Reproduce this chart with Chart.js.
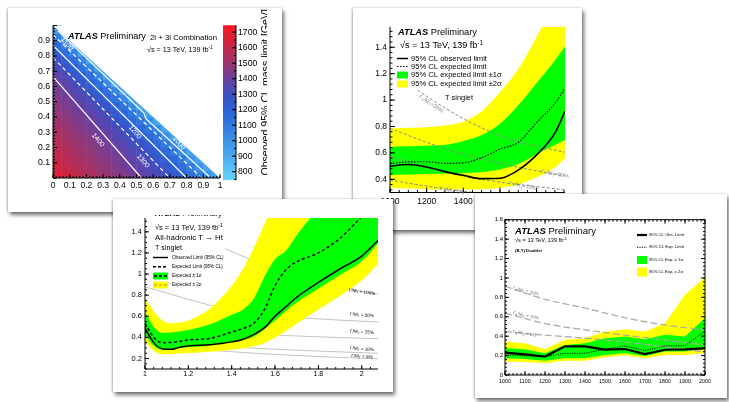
<!DOCTYPE html>
<html>
<head>
<meta charset="utf-8">
<script src="https://cdn.jsdelivr.net/npm/chart.js@4.4.1/dist/chart.umd.min.js"></script>
<style>
  html, body { margin: 0; padding: 0; background: #fff; }
  body { width: 729px; height: 402px; position: relative; overflow: hidden; }
  .card { position: absolute; background: #fff; overflow: hidden;
          box-shadow: 2px 3px 4px rgba(0,0,0,.55), -1px 0 2px rgba(0,0,0,.25); }
  .clip { position: absolute; overflow: hidden; }
  canvas { position: absolute; filter: blur(0.55px); }
</style>
</head>
<body>
<div class="card" style="left:8px;top:8px;width:274px;height:204px;z-index:1">
  <canvas id="heat" width="729" height="402" style="left:-8px;top:-8px"></canvas>
  <div class="clip" style="left:0;top:0;width:259px;height:204px">
    <canvas id="zbar" width="729" height="402" style="left:-8px;top:-8px"></canvas>
  </div>
</div>
<div class="card" style="left:353px;top:8px;width:229px;height:222px;z-index:2">
  <canvas id="singlet" width="729" height="402" style="left:-353px;top:-8px"></canvas>
</div>
<div class="card" style="left:113px;top:199px;width:280px;height:193px;z-index:3">
  <div class="clip" style="left:0;top:16px;width:280px;height:177px">
    <canvas id="hadronic" width="729" height="402" style="left:-113px;top:-215px"></canvas>
  </div>
</div>
<div class="card" style="left:475px;top:194px;width:252px;height:204px;z-index:4">
  <canvas id="doublet" width="729" height="402" style="left:-475px;top:-194px"></canvas>
</div>

<script>
const FONT = '"Liberation Sans", Arial, Helvetica, sans-serif';

// ---------- 2l + 3l combination: observed mass limit [GeV] ----------
// one row per 0.05 bin in y (from the bottom), cells every 0.05 in x
const combBin = 0.05;
const combRows = [
  [1660,1630,1600,1570,1540,1515,1490,1465,1440,1420,1390,1360,1330,1300,1255,1200,1145,1085,1000,930],
  [1630,1600,1575,1550,1520,1495,1470,1445,1420,1395,1365,1335,1305,1260,1205,1150,1090,1005,920],
  [1605,1580,1555,1525,1500,1475,1450,1425,1400,1370,1340,1310,1260,1210,1155,1095,1005,920],
  [1585,1560,1530,1505,1480,1455,1430,1410,1380,1345,1315,1270,1215,1160,1100,1010,920],
  [1565,1540,1515,1485,1460,1440,1415,1385,1350,1315,1275,1220,1160,1100,1015,920],
  [1545,1520,1495,1470,1445,1420,1390,1355,1320,1280,1225,1165,1105,1015,920],
  [1525,1500,1475,1450,1425,1395,1360,1325,1285,1230,1170,1110,1020,920],
  [1505,1480,1455,1430,1405,1370,1330,1290,1235,1175,1115,1020,920],
  [1485,1460,1435,1410,1375,1335,1300,1240,1180,1115,1025,920],
  [1465,1440,1415,1380,1340,1305,1245,1185,1120,1030,920],
  [1445,1420,1390,1350,1310,1250,1190,1125,1035,920],
  [1425,1395,1355,1315,1255,1195,1130,1040,920],
  [1405,1360,1320,1265,1200,1130,1040,920],
  [1370,1325,1270,1205,1135,1045,920],
  [1330,1275,1210,1140,1050,920],
  [1285,1215,1145,1055,920],
  [1220,1150,1060,920],
  [1155,1065,920],
  [1070,920],
  [950]
];
const combEdge = [[0, 1], [1, 0]];
const contour1400 = [[0, 0.665], [0.53, 0]];
const contour1300 = [[0, 0.79], [0.70, 0]];
const contour1200 = [[0, 0.87], [0.80, 0]];
const contour1100 = [[0, 0.94], [0.89, 0]];
const contour1000 = [[0.03, 0.965], [0.545, 0.425], [0.555, 0.39], [0.945, 0]];
const combXTicks = [0, 0.1, 0.2, 0.3, 0.4, 0.5, 0.6, 0.7, 0.8, 0.9, 1];
const combYTicks = [0.1, 0.2, 0.3, 0.4, 0.5, 0.6, 0.7, 0.8, 0.9];
const combZTicks = [800, 900, 1000, 1100, 1200, 1300, 1400, 1500, 1600, 1700];
const combZRange = [745, 1745];
const combPalette = [
  [745, '#66d4fc'], [800, '#5cc6f8'], [900, '#4aaaf0'], [1000, '#3c92e8'],
  [1100, '#3279e0'], [1200, '#2b62d6'], [1300, '#3f4fc2'], [1400, '#6b3f9e'],
  [1500, '#9a356f'], [1600, '#c4284a'], [1700, '#ec1a2c'], [1745, '#f81424']
];

// ---------- T singlet, Ht + Zt + Wb ----------
const tsMass = [1000, 1100, 1200, 1300, 1400, 1500, 1600, 1700, 1800, 1900, 1955];
const tsObs  = [0.50, 0.512, 0.493, 0.458, 0.43, 0.405, 0.408, 0.47, 0.585, 0.75, 0.915];
const tsExp  = [0.52, 0.532, 0.533, 0.521, 0.525, 0.563, 0.628, 0.68, 0.83, 0.975, 1.09];
const tsUp1  = [0.645, 0.65, 0.655, 0.66, 0.69, 0.735, 0.82, 0.96, 1.13, 1.3, 1.405];
const tsLo1  = [0.433, 0.437, 0.44, 0.443, 0.446, 0.455, 0.475, 0.515, 0.59, 0.66, 0.698];
const tsUp2  = [0.785, 0.79, 0.795, 0.808, 0.835, 0.915, 1.06, 1.235, 1.48, 1.75, 1.95];
const tsLo2  = [0.335, 0.33, 0.325, 0.322, 0.322, 0.325, 0.335, 0.36, 0.415, 0.49, 0.56];
const tsWidth30 = [[1150,1.075],[1300,0.94],[1400,0.86],[1500,0.79],[1600,0.73],[1700,0.685],[1800,0.65],[1955,0.605]];
const tsWidth20 = [[1000,0.786],[1200,0.68],[1400,0.59],[1600,0.52],[1800,0.465],[1955,0.425]];
const tsWidth10 = [[1000,0.571],[1200,0.49],[1400,0.425],[1600,0.378],[1800,0.345],[1955,0.32]];
const tsWidth5  = [[1000,0.395],[1200,0.348],[1400,0.31],[1600,0.28]];
const tsXTicks = [1000, 1200, 1400, 1600, 1800];
const tsYTicks = [0.4, 0.6, 0.8, 1, 1.2, 1.4];

// ---------- all-hadronic T -> Ht, T singlet ----------
const hadMass = [1.0, 1.04, 1.08, 1.12, 1.16, 1.2, 1.3, 1.4, 1.45, 1.5, 1.55, 1.6, 1.65, 1.7, 1.8, 1.9, 2.0, 2.1];
const hadObs = [0.484, 0.35, 0.292, 0.286, 0.305, 0.32, 0.33, 0.357, 0.38, 0.425, 0.49, 0.6, 0.69, 0.78, 0.92, 1.05, 1.17, 1.37];
const hadExp = [0.532, 0.40, 0.348, 0.352, 0.362, 0.375, 0.39, 0.45, 0.482, 0.53, 0.66, 0.89, 1.04, 1.116, 1.2, 1.34, 1.545, 1.75];
const hadUp1 = [0.642, 0.5, 0.44, 0.445, 0.455, 0.47, 0.525, 0.615, 0.66, 0.76, 0.97, 1.14, 1.22, 1.368, 1.62, 1.85, 2.0, 2.1];
const hadLo1 = [0.421, 0.32, 0.28, 0.288, 0.298, 0.305, 0.326, 0.355, 0.372, 0.405, 0.475, 0.56, 0.65, 0.73, 0.86, 0.99, 1.12, 1.35];
const hadUp2 = [0.768, 0.65, 0.56, 0.532, 0.54, 0.56, 0.674, 0.89, 1.04, 1.24, 1.47, 1.7, 1.9, 2.0, 2.2, 2.4, 2.5, 2.6];
const hadLo2 = [0.358, 0.275, 0.24, 0.242, 0.248, 0.252, 0.263, 0.283, 0.295, 0.315, 0.345, 0.395, 0.46, 0.53, 0.665, 0.795, 0.94, 1.15];
const hadWidthMass = [1.0, 1.1, 1.2, 1.3, 1.4, 1.5, 1.6, 1.7, 1.8, 1.9, 2.0, 2.1];
const hadWidth100 = [[1.369,1.242],[1.5,1.125],[1.6,1.045],[1.7,0.98],[1.8,0.925],[1.9,0.875],[2.0,0.835],[2.1,0.8]];
const hadWidth50 = [0.879, 0.82, 0.76, 0.705, 0.665, 0.635, 0.61, 0.59, 0.575, 0.563, 0.553, 0.545];
const hadWidth25 = [0.516, 0.49, 0.47, 0.453, 0.44, 0.43, 0.421, 0.413, 0.405, 0.398, 0.392, 0.386];
const hadWidth10 = [0.389, 0.365, 0.345, 0.326, 0.31, 0.298, 0.288, 0.278, 0.27, 0.262, 0.255, 0.248];
const hadWidth5  = [0.342, 0.318, 0.297, 0.279, 0.264, 0.25, 0.238, 0.228, 0.218, 0.21, 0.202, 0.195];
const hadXTicks = [1, 1.2, 1.4, 1.6, 1.8, 2];
const hadYTicks = [0.2, 0.4, 0.6, 0.8, 1, 1.2, 1.4];

// ---------- (B,Y) doublet ----------
const dblMass = [1000, 1100, 1200, 1300, 1400, 1500, 1600, 1700, 1800, 1900, 2000];
const dblObs = [0.23, 0.212, 0.19, 0.295, 0.295, 0.262, 0.268, 0.215, 0.26, 0.265, 0.275];
const dblExp = [0.207, 0.2, 0.19, 0.224, 0.224, 0.266, 0.30, 0.252, 0.30, 0.30, 0.455];
const dblUp1 = [0.276, 0.265, 0.224, 0.31, 0.328, 0.379, 0.397, 0.369, 0.414, 0.397, 0.586];
const dblLo1 = [0.172, 0.165, 0.148, 0.172, 0.172, 0.207, 0.224, 0.197, 0.241, 0.241, 0.276];
const dblUp2 = [0.345, 0.328, 0.266, 0.362, 0.379, 0.448, 0.472, 0.448, 0.534, 0.828, 1.01];
const dblLo2 = [0.138, 0.134, 0.121, 0.148, 0.148, 0.183, 0.2, 0.172, 0.207, 0.207, 0.224];
const dblWidth20 = [[1000,0.914],[1200,0.78],[1400,0.69],[1600,0.59],[1800,0.515],[2000,0.466]];
const dblWidth10 = [[1000,0.638],[1200,0.53],[1400,0.465],[1600,0.41],[1800,0.36],[2000,0.31]];
const dblWidth5  = [[1000,0.448],[1200,0.41],[1400,0.38],[1600,0.34],[1800,0.29],[2000,0.235]];
const dblXTicks = [1000, 1100, 1200, 1300, 1400, 1500, 1600, 1700, 1800, 1900, 2000];
const dblYTicks = [0, 0.2, 0.4, 0.6, 0.8, 1, 1.2, 1.4, 1.6];

// ---------- helpers ----------
const steps = (a, b, d) => { const out = []; for (let v = a; v <= b + 1e-9; v += d) out.push(+v.toFixed(4)); return out; };
const pts = (xs, ys) => xs.map((x, i) => ({ x, y: ys[i] }));
const pairs = arr => arr.map(([x, y]) => ({ x, y }));

function hexRgb(h) { return [1, 3, 5].map(i => parseInt(h.slice(i, i + 2), 16)); }
function paletteColor(v) {
  const p = combPalette;
  if (v <= p[0][0]) return p[0][1];
  for (let i = 1; i < p.length; i++) {
    if (v <= p[i][0]) {
      const t = (v - p[i - 1][0]) / (p[i][0] - p[i - 1][0]);
      const a = hexRgb(p[i - 1][1]), b = hexRgb(p[i][1]);
      return 'rgb(' + a.map((c, k) => Math.round(c + (b[k] - c) * t)).join(',') + ')';
    }
  }
  return p[p.length - 1][1];
}

function line(data, color, width, dash, smooth) {
  return { data, borderColor: color, borderWidth: width, borderDash: dash || [], pointRadius: 0,
           fill: false, showLine: true, cubicInterpolationMode: smooth ? 'monotone' : 'default', tension: 0 };
}
function band(xs, hi, lo, color, smooth) {
  const mode = smooth ? 'monotone' : 'default';
  return [
    { data: pts(xs, hi), fill: '+1', backgroundColor: color, borderWidth: 0, pointRadius: 0, cubicInterpolationMode: mode },
    { data: pts(xs, lo), fill: false, borderWidth: 0, pointRadius: 0, cubicInterpolationMode: mode }
  ];
}

function linAxis(min, max, ticks, o) {
  return {
    type: 'linear', min, max, position: o.pos,
    grid: { display: false, drawTicks: false }, border: { display: false },
    ticks: { font: { family: FONT, size: o.size }, color: '#000', padding: o.pad,
             maxRotation: 0, autoSkip: false, callback: v => String(v) },
    afterBuildTicks: s => { s.ticks = ticks.map(v => ({ value: v })); },
    afterFit: s => { if (s.isHorizontal()) s.height = o.fit; else s.width = o.fit; }
  };
}

// ROOT style frame with inward tick marks
const rootFrame = {
  id: 'rootFrame',
  afterDatasetsDraw(chart, args, o) {
    if (!o || !o.sides) return;
    const { ctx, chartArea: a } = chart;
    const sx = chart.scales.x, sy = chart.scales.y;
    const [big, small] = o.len || [4, 2];
    const has = s => o.sides.includes(s);
    ctx.save();
    ctx.strokeStyle = '#000';
    ctx.lineWidth = o.lw || 1;
    ctx.beginPath();
    if (has('left'))   { ctx.moveTo(a.left, a.top);  ctx.lineTo(a.left, a.bottom); }
    if (has('right'))  { ctx.moveTo(a.right, a.top); ctx.lineTo(a.right, a.bottom); }
    if (has('bottom')) { ctx.moveTo(a.left, a.bottom); ctx.lineTo(a.right, a.bottom); }
    if (has('top'))    { ctx.moveTo(a.left, a.top);  ctx.lineTo(a.right, a.top); }
    const xt = (vals, len) => (vals || []).forEach(v => {
      const p = sx.getPixelForValue(v);
      if (p < a.left - 0.5 || p > a.right + 0.5) return;
      if (has('bottom')) { ctx.moveTo(p, a.bottom); ctx.lineTo(p, a.bottom - len); }
      if (has('top'))    { ctx.moveTo(p, a.top);    ctx.lineTo(p, a.top + len); }
    });
    const yt = (vals, len) => (vals || []).forEach(v => {
      const p = sy.getPixelForValue(v);
      if (p < a.top - 0.5 || p > a.bottom + 0.5) return;
      if (has('left'))  { ctx.moveTo(a.left, p);  ctx.lineTo(a.left + len, p); }
      if (has('right')) { ctx.moveTo(a.right, p); ctx.lineTo(a.right - len, p); }
    });
    xt(o.xt, big); xt(o.xm, small); yt(o.yt, big); yt(o.ym, small);
    ctx.stroke();
    ctx.restore();
  }
};

// text labels and legend samples, in canvas pixels
function drawNote(ctx, n) {
  const parts = n.parts || [{ t: n.text }];
  const fontOf = (p, s) => (p.i ? 'italic ' : '') + (p.b || n.b ? 'bold ' : '') +
    ((p.sub || p.sup) ? s * 0.7 : s).toFixed(2) + 'px ' + FONT;
  const widthAt = s => parts.reduce((w, p) => { ctx.font = fontOf(p, s); return w + ctx.measureText(p.t).width; }, 0);
  const size = n.w ? 10 * n.w / widthAt(10) : (n.size || 10);
  const total = widthAt(size);
  let x = n.align === 'center' ? -total / 2 : n.align === 'right' ? -total : 0;
  ctx.save();
  ctx.translate(n.x, n.y);
  if (n.rot) ctx.rotate(n.rot * Math.PI / 180);
  ctx.fillStyle = n.color || '#000';
  ctx.textBaseline = 'middle';
  ctx.textAlign = 'left';
  for (const p of parts) {
    ctx.font = fontOf(p, size);
    ctx.fillText(p.t, x, p.sub ? size * 0.3 : p.sup ? -size * 0.35 : 0);
    x += ctx.measureText(p.t).width;
  }
  ctx.restore();
}
function drawSample(ctx, s) {
  ctx.save();
  if (s.fill) { ctx.fillStyle = s.fill; ctx.fillRect(s.x, s.y - s.h / 2, s.w, s.h); }
  if (s.line) {
    ctx.strokeStyle = s.line; ctx.lineWidth = s.lw || 1; ctx.setLineDash(s.dash || []);
    ctx.beginPath(); ctx.moveTo(s.x + (s.inset || 0), s.y); ctx.lineTo(s.x + s.w - (s.inset || 0), s.y); ctx.stroke();
  }
  ctx.restore();
}
const notes = {
  id: 'notes',
  afterDraw(chart, args, o) {
    (o.samples || []).forEach(s => drawSample(chart.ctx, s));
    (o.items || []).forEach(n => drawNote(chart.ctx, n));
  }
};

const atlas = [{ t: 'ATLAS', b: true, i: true }, { t: ' Preliminary' }];
const energy = [{ t: '√s = 13 TeV, 139 fb' }, { t: '-1', sup: true }];
const gammaQ = (q, tail) => [{ t: 'Γ' }, { t: q, sub: true }, { t: '/M' }, { t: q, sub: true }, { t: tail }];
const gammaT = tail => [{ t: 'Γ/M' }, { t: 'T', sub: true }, { t: tail }];

function makeChart(id, type, datasets, o) {
  return new Chart(document.getElementById(id), {
    type,
    data: { labels: o.labels, datasets },
    options: {
      responsive: false, animation: false, devicePixelRatio: 1, events: [],
      layout: { padding: o.pad },
      plugins: { legend: { display: false }, tooltip: { enabled: false },
                 rootFrame: o.frame || {}, notes: o.notes || {} },
      scales: o.scales
    },
    plugins: [rootFrame, notes]
  });
}

// ---------- top left: mass limit plane ----------
const cells = [];
combRows.forEach((row, j) => row.forEach((v, i) => cells.push({ x: (i + 0.5) * combBin, y: (j + 0.5) * combBin, v })));

makeChart('heat', 'scatter', [
  line(pairs(contour1000), '#fff', 1.2),
  line(pairs(contour1100), '#fff', 1.2, [4, 3]),
  line(pairs(contour1200), '#fff', 1.2),
  line(pairs(contour1300), '#fff', 1.2, [4, 3]),
  line(pairs(contour1400), '#fff', 1.2),
  { data: pairs(combEdge), showLine: true, fill: 'end', backgroundColor: '#fff', borderWidth: 0, pointRadius: 0 },
  { data: cells, pointStyle: 'rect', pointRadius: 6.2, borderWidth: 0,
    pointBackgroundColor: c => paletteColor(c.raw.v), backgroundColor: c => paletteColor(c.raw.v) }
], {
  pad: { left: 13, right: 509, top: 25.5, bottom: 204 },
  scales: {
    x: linAxis(0, 1, combXTicks, { pos: 'bottom', size: 8.5, pad: 2.5, fit: 20 }),
    y: linAxis(0, 1, combYTicks, { pos: 'left', size: 8.7, pad: 3, fit: 40 })
  },
  frame: { sides: ['left', 'bottom'], xt: combXTicks, xm: steps(0, 1, 0.02), yt: combXTicks, ym: steps(0, 1, 0.02), len: [4, 2] },
  notes: { items: [
    { x: 68, y: 36.5, w: 78, parts: atlas },
    { x: 150, y: 37.5, w: 67, text: '2l + 3l Combination' },
    { x: 147, y: 50.5, w: 66, parts: energy },
    { x: 98, y: 140, size: 7, text: '1400', color: '#fff', rot: 49, align: 'center' },
    { x: 143, y: 161, size: 7, text: '1300', color: '#fff', rot: 49, align: 'center' },
    { x: 135, y: 132, size: 7, text: '1200', color: '#fff', rot: 49, align: 'center' },
    { x: 67, y: 44, size: 7, text: '1100', color: '#fff', rot: 49, align: 'center' },
    { x: 179, y: 143, size: 7, text: '1000', color: '#fff', rot: 49, align: 'center' }
  ] }
});

// colour scale of the limit plane
makeChart('zbar', 'bar', [{
  data: [combZRange], barPercentage: 1, categoryPercentage: 1, borderWidth: 0,
  backgroundColor: c => {
    const ch = c.chart;
    if (!ch.chartArea) return '#888';
    const y = ch.scales.y;
    const g = ch.ctx.createLinearGradient(0, y.getPixelForValue(combZRange[0]), 0, y.getPixelForValue(combZRange[1]));
    combPalette.forEach(([v, col]) => g.addColorStop((v - combZRange[0]) / (combZRange[1] - combZRange[0]), col));
    return g;
  }
}], {
  labels: ['z'],
  pad: { left: 223, right: 453, top: 25.3, bottom: 221.8 },
  scales: {
    x: { type: 'category', display: false },
    y: linAxis(combZRange[0], combZRange[1], combZTicks, { pos: 'right', size: 8.7, pad: 2, fit: 40 })
  },
  frame: { sides: ['right'], yt: combZTicks, ym: steps(750, 1740, 50), len: [4, 2] },
  notes: { items: [
    { x: 266, y: 9, size: 10.6, rot: -90, align: 'right', text: 'Observed 95% CL mass limit [GeV]' }
  ] }
});

// ---------- top right: T singlet ----------
makeChart('singlet', 'line', [
  line(pts(tsMass, tsObs), '#000', 1.6, [], true),
  line(pts(tsMass, tsExp), '#000', 1.2, [1.5, 1.5], true),
  line(pairs(tsWidth30), '#8a8a8a', 1, [3, 2], true),
  line(pairs(tsWidth20), '#8a8a8a', 1, [3, 2], true),
  line(pairs(tsWidth10), '#8a8a8a', 1, [3, 2], true),
  line(pairs(tsWidth5), '#8a8a8a', 1, [3, 2], true),
  ...band(tsMass, tsUp1, tsLo1, '#00ff00', true),
  ...band(tsMass, tsUp2, tsLo2, '#ffff00', true)
], {
  pad: { left: 360, right: 164, top: 26.8, bottom: 193.5 },
  scales: {
    x: linAxis(1000, 1955, tsXTicks, { pos: 'bottom', size: 8.5, pad: 4, fit: 16 }),
    y: linAxis(0.3, 1.555, tsYTicks, { pos: 'left', size: 8.5, pad: 3, fit: 30 })
  },
  frame: { sides: ['left', 'bottom'], xt: tsXTicks, xm: steps(1000, 1950, 50), yt: tsYTicks, ym: steps(0.32, 1.54, 0.04), len: [5, 2.5] },
  notes: {
    samples: [
      { x: 397, y: 58.5, w: 11, line: '#000', lw: 1.5 },
      { x: 397, y: 66.5, w: 11, line: '#000', lw: 1.2, dash: [1.5, 1.5] },
      { x: 397, y: 75, w: 11, h: 7, fill: '#00ff00' },
      { x: 397, y: 84, w: 11, h: 7, fill: '#ffff00' }
    ],
    items: [
      { x: 398, y: 32.7, w: 79, parts: atlas },
      { x: 400, y: 46, w: 83, parts: energy },
      { x: 411, y: 58.5, size: 7.6, text: '95% CL observed limit' },
      { x: 411, y: 66.5, size: 7.6, text: '95% CL expected limit' },
      { x: 411, y: 75, size: 7.6, text: '95% CL expected limit ±1σ' },
      { x: 411, y: 84, size: 7.6, text: '95% CL expected limit ±2σ' },
      { x: 445, y: 98, size: 7.4, text: 'T singlet' },
      { x: 431, y: 104, size: 5.5, rot: 33, align: 'center', color: '#888', parts: gammaQ('T', '=30%') },
      { x: 555, y: 174, size: 5.5, rot: 10, align: 'center', color: '#888', parts: gammaQ('T', '=20%') },
      { x: 523, y: 186, size: 5.5, rot: 12, align: 'center', color: '#888', parts: gammaQ('T', '=10%') },
      { x: 452, y: 191, size: 5.5, rot: 10, align: 'center', color: '#888', parts: gammaQ('T', '=5%') }
    ]
  }
});

// ---------- bottom middle: all-hadronic T -> Ht ----------
makeChart('hadronic', 'line', [
  line(pts(hadMass, hadObs), '#000', 1.5, [], true),
  line(pts(hadMass, hadExp), '#000', 1.5, [3, 2.5], true),
  ...band(hadMass, hadUp1, hadLo1, '#00ff00', true),
  ...band(hadMass, hadUp2, hadLo2, '#ffff00', true),
  line(pairs(hadWidth100), '#b4b4b4', 0.8, [], true),
  line(pts(hadWidthMass, hadWidth50), '#b4b4b4', 0.8, [], true),
  line(pts(hadWidthMass, hadWidth25), '#b4b4b4', 0.8, [], true),
  line(pts(hadWidthMass, hadWidth10), '#b4b4b4', 0.8, [], true),
  line(pts(hadWidthMass, hadWidth5), '#b4b4b4', 0.8, [], true)
], {
  pad: { left: 120, right: 351, top: 218, bottom: 19 },
  scales: {
    x: linAxis(1, 2.075, hadXTicks, { pos: 'bottom', size: 7, pad: 1, fit: 14 }),
    y: linAxis(0.1, 1.531, hadYTicks, { pos: 'left', size: 7.5, pad: 3, fit: 25 })
  },
  frame: { sides: ['left', 'bottom'], xt: hadXTicks, xm: steps(1, 2.06, 0.04), yt: hadYTicks, ym: steps(0.1, 1.5, 0.05), len: [4, 2] },
  notes: {
    samples: [
      { x: 153, y: 257.5, w: 15, line: '#000', lw: 1.4 },
      { x: 153, y: 266.7, w: 15, line: '#000', lw: 1.4, dash: [3, 2] },
      { x: 153, y: 276, w: 15, h: 7, fill: '#00ff00', line: '#000', lw: 1.4, dash: [3, 2], inset: 1 },
      { x: 153, y: 285, w: 15, h: 7, fill: '#ffff00', line: '#c8b400', lw: 1.4, dash: [3, 2], inset: 1 }
    ],
    items: [
      { x: 155, y: 214, w: 67, parts: atlas },
      { x: 155, y: 228.3, w: 68, parts: energy },
      { x: 155, y: 238.3, w: 68, text: 'All-hadronic T → Ht' },
      { x: 155, y: 248.3, w: 27, text: 'T singlet' },
      { x: 172, y: 257.5, size: 4.6, text: 'Observed Limit (95% CL)' },
      { x: 172, y: 266.7, size: 4.6, text: 'Expected Limit (95% CL)' },
      { x: 172, y: 276, size: 4.6, text: 'Expected ± 1σ' },
      { x: 172, y: 285, size: 4.6, text: 'Expected ± 2σ' },
      { x: 362, y: 292, size: 4.6, rot: 8, align: 'center', parts: gammaT(' = 100%') },
      { x: 362, y: 315, size: 4.6, rot: 4, align: 'center', parts: gammaT(' = 50%') },
      { x: 362, y: 332, size: 4.6, rot: 3, align: 'center', parts: gammaT(' = 25%') },
      { x: 362, y: 349, size: 4.6, rot: 4, align: 'center', parts: gammaT(' = 10%') },
      { x: 362, y: 356.5, size: 4.6, rot: 4, align: 'center', parts: gammaT(' = 5%') }
    ]
  }
});

// ---------- bottom right: (B,Y) doublet ----------
makeChart('doublet', 'line', [
  line(pts(dblMass, dblObs), '#000', 2.2),
  line(pts(dblMass, dblExp), '#000', 1, [1.2, 1.2]),
  line(pairs(dblWidth20), '#a8a8a8', 1.2, [7, 3], true),
  line(pairs(dblWidth10), '#a8a8a8', 1.2, [7, 3], true),
  line(pairs(dblWidth5), '#a8a8a8', 1.2, [7, 3], true),
  ...band(dblMass, dblUp1, dblLo1, '#00ff00'),
  ...band(dblMass, dblUp2, dblLo2, '#ffff00')
], {
  pad: { left: 485, right: 24, top: 219.7, bottom: 15 },
  scales: {
    x: linAxis(1000, 2000, dblXTicks, { pos: 'bottom', size: 5.3, pad: 3, fit: 12 }),
    y: linAxis(0, 1.6, dblYTicks, { pos: 'left', size: 6, pad: 2, fit: 20 })
  },
  frame: { sides: ['left', 'bottom', 'top', 'right'], xt: dblXTicks, xm: steps(1000, 2000, 20), yt: dblYTicks, ym: steps(0, 1.6, 0.04), len: [4, 2] },
  notes: {
    samples: [
      { x: 637, y: 235, w: 10, line: '#000', lw: 2.2 },
      { x: 637, y: 247.3, w: 10, line: '#000', lw: 1, dash: [1.2, 1.2] },
      { x: 637, y: 260, w: 10, h: 8, fill: '#00ff00' },
      { x: 637, y: 272, w: 10, h: 9, fill: '#ffff00' }
    ],
    items: [
      { x: 515, y: 231, w: 81, parts: atlas },
      { x: 515, y: 240.7, w: 52, parts: energy },
      { x: 515, y: 250.7, w: 27, b: true, text: '(B,Y) Doublet' },
      { x: 649, y: 235, w: 35, text: '95% CL Obs. Limit' },
      { x: 649, y: 247.3, w: 35, text: '95% CL Exp. Limit' },
      { x: 649, y: 260, w: 34, text: '95% CL Exp. ± 1σ' },
      { x: 649, y: 272, w: 34, text: '95% CL Exp. ± 2σ' },
      { x: 513, y: 288, size: 4.6, rot: 14, color: '#777', parts: gammaQ('B', ' = 20%') },
      { x: 513, y: 313, size: 4.6, rot: 12, color: '#777', parts: gammaQ('B', ' = 10%') },
      { x: 513, y: 331.5, size: 4.6, rot: 10, color: '#777', parts: gammaQ('B', ' = 5%') }
    ]
  }
});
</script>
</body>
</html>
